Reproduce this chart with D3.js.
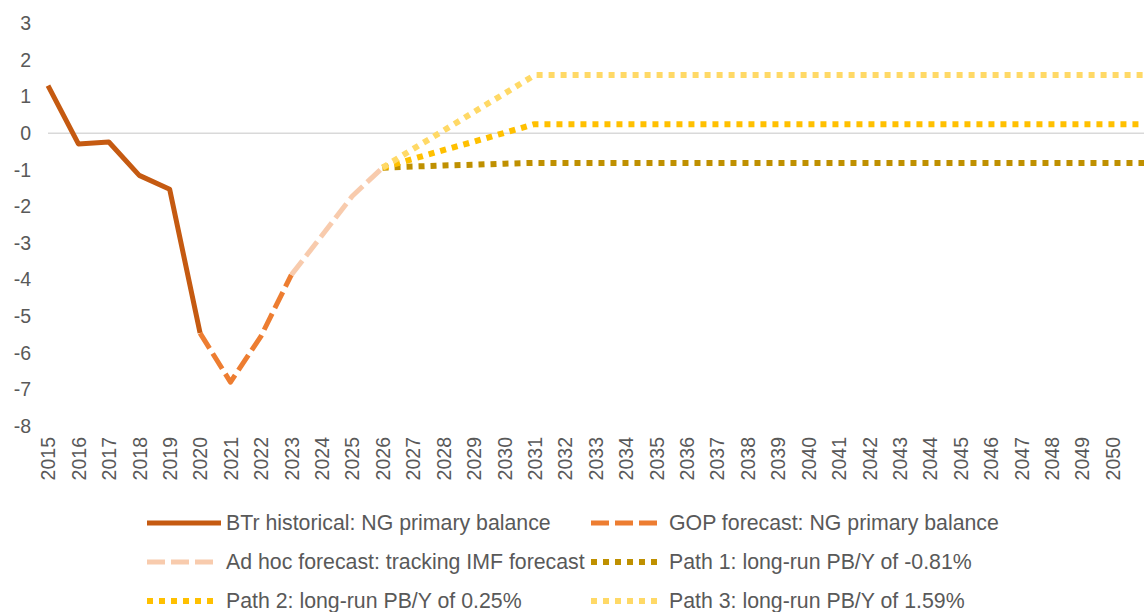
<!DOCTYPE html>
<html>
<head>
<meta charset="utf-8">
<script src="https://cdn.jsdelivr.net/npm/d3@7"></script>
<style>
  html, body { margin: 0; padding: 0; background: #ffffff; }
  svg { display: block; font-family: "Liberation Sans", Arial, sans-serif; }
</style>
</head>
<body>
<svg id="chart" width="1144" height="612"></svg>
<script>
// ---- Data ----
const xTickYears = d3.range(2015, 2051);           // tick labels 2015..2050
const yTicks = [3, 2, 1, 0, -1, -2, -3, -4, -5, -6, -7, -8];

const histYears = [2015, 2016, 2017, 2018, 2019, 2020];
const histValues = [1.3, -0.29, -0.24, -1.15, -1.53, -5.46];

const gopYears = [2020, 2021, 2022, 2023];
const gopValues = [-5.46, -6.8, -5.55, -3.87];

const adhocYears = [2023, 2024, 2025, 2026];
const adhocValues = [-3.87, -2.8, -1.72, -0.94];

const pathYears = [2026, 2027, 2028, 2029, 2030, 2031, 2035, 2040, 2045, 2050, 2052];
const path1Values = [-0.94, -0.91, -0.88, -0.86, -0.83, -0.81, -0.81, -0.81, -0.81, -0.81, -0.81];
const path2Values = [-0.94, -0.70, -0.46, -0.23, 0.01, 0.25, 0.25, 0.25, 0.25, 0.25, 0.25];
const path3Values = [-0.94, -0.43, 0.07, 0.58, 1.08, 1.59, 1.59, 1.59, 1.59, 1.59, 1.59];

const seriesNames = [
  "BTr historical: NG primary balance",
  "GOP forecast: NG primary balance",
  "Ad hoc forecast: tracking IMF forecast",
  "Path 1: long-run PB/Y of -0.81%",
  "Path 2: long-run PB/Y of 0.25%",
  "Path 3: long-run PB/Y of 1.59%"
];

// ---- Styles ----
const styles = [
  { color: "#c55a11", width: 5,   dash: null },
  { color: "#ed7d31", width: 5,   dash: "18,6" },
  { color: "#f8cbad", width: 5,   dash: "18,6" },
  { color: "#bf9000", width: 6,   dash: "6,6" },
  { color: "#ffc000", width: 6,   dash: "6,6" },
  { color: "#ffd966", width: 6,   dash: "6,6" }
];

const series = [
  { years: histYears, values: histValues },
  { years: gopYears, values: gopValues },
  { years: adhocYears, values: adhocValues },
  { years: pathYears, values: path1Values },
  { years: pathYears, values: path2Values },
  { years: pathYears, values: path3Values }
];

const svg = d3.select("#chart");
const textColor = "#595959";
const tickFont = "19.5px";

const x = d3.scaleLinear().domain([2015, 2050]).range([48, 1112.5]);
const y = d3.scaleLinear().domain([-8, 3]).range([426, 23.5]);

// zero gridline
svg.append("line")
  .attr("x1", x(2015)).attr("x2", 1144)
  .attr("y1", y(0)).attr("y2", y(0))
  .attr("stroke", "#d9d9d9").attr("stroke-width", 1.5);

// Y axis
const yAxis = svg.append("g")
  .attr("transform", `translate(${x(2015)},0)`)
  .call(d3.axisLeft(y).tickValues(yTicks).tickSize(0).tickPadding(17).tickFormat(d => String(d)));
yAxis.select(".domain").remove();
yAxis.selectAll("text")
  .attr("fill", textColor)
  .style("font-size", tickFont)
  .style("font-family", "'Liberation Sans', Arial, sans-serif");

// X axis
const xAxis = svg.append("g")
  .attr("transform", `translate(0,${y(-8)})`)
  .call(d3.axisBottom(x).tickValues(xTickYears).tickSize(0).tickFormat(d => String(d)));
xAxis.select(".domain").remove();
xAxis.selectAll("text")
  .attr("fill", textColor)
  .attr("transform", "rotate(-90)")
  .attr("text-anchor", "end")
  .attr("x", -11)
  .attr("y", 0)
  .attr("dy", "0.35em")
  .style("font-size", tickFont)
  .style("font-family", "'Liberation Sans', Arial, sans-serif");

// Lines
const line = d3.line().x(d => x(d[0])).y(d => y(d[1]));
series.forEach((s, i) => {
  const pts = s.years.map((yr, j) => [yr, s.values[j]]);
  const st = styles[i];
  svg.append("path")
    .datum(pts)
    .attr("d", line)
    .attr("fill", "none")
    .attr("stroke", st.color)
    .attr("stroke-width", st.width)
    .attr("stroke-linejoin", "round")
    .attr("stroke-dasharray", st.dash);
});

// Legend
const legCols = [147, 591];
const legRows = [523, 562, 601];
const legend = svg.append("g");
seriesNames.forEach((name, i) => {
  const cx = legCols[i % 2];
  const cy = legRows[Math.floor(i / 2)];
  const st = styles[i];
  const len = i === 0 ? 74 : 66;
  legend.append("line")
    .attr("x1", cx).attr("x2", cx + len)
    .attr("y1", cy).attr("y2", cy)
    .attr("stroke", st.color)
    .attr("stroke-width", st.width)
    .attr("stroke-dasharray", st.dash);
  legend.append("text")
    .attr("x", cx + (i % 2 === 0 ? 79 : 78))
    .attr("y", cy)
    .attr("dy", "0.35em")
    .attr("fill", textColor)
    .style("font-size", "21.3px")
    .text(name);
});
</script>
</body>
</html>
